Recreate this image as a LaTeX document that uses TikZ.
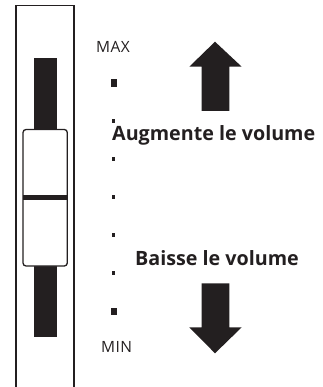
\documentclass[tikz,border=0pt]{standalone}
\usepackage{fontspec}
\setmainfont{Open Sans}
\definecolor{ink}{HTML}{231F20}
\tikzset{
  lbl/.style={inner sep=0pt, anchor=base west, text=ink},
  boldlbl/.style={lbl, font=\fontsize{19.7}{21}\selectfont\bfseries},
  smalllbl/.style={lbl, font=\fontsize{15.5}{17}\selectfont\addfontfeature{LetterSpace=3}},
  bigdot/.style={fill=ink, draw=none},
  fatarrow/.style={fill=ink, draw=none}
}
\begin{document}
\begin{tikzpicture}[x=1pt, y=-1pt]
\useasboundingbox (0,0) rectangle (322,387);
% frame (open at bottom)
\draw[ink, line width=1.5pt] (15.8,400) -- (15.8,5.7) -- (74.2,5.7) -- (74.2,400);
% dark slot
\fill[ink] (34,58.3) rectangle (56.7,336.7);
% knob
\draw[ink, fill=white, line width=1.3pt, rounded corners=3pt] (23,129.5) rectangle (67.3,266);
\draw[ink, line width=5.5pt] (23,197.3) -- (67.3,197.3);
% scale marks
\fill[bigdot] (111.3,79.5) rectangle (116.7,86.7);
\foreach \yy in {121,159,197,235,273} {
  \fill[bigdot] (111.7,\yy-2.3) rectangle (115,\yy+2.3);
}
\fill[bigdot] (111.3,307.5) rectangle (116.7,314.7);
% labels
\node[smalllbl] (max) at (96,52.7) {MAX};
\node[smalllbl] (min) at (101,352.5) {MIN};
\node[boldlbl] (up) at (112,140.7) {Augmente le volume};
\node[boldlbl] (down) at (135,265.7) {Baisse le volume};
% arrows
\fill[fatarrow] (215,41.7) -- (241.7,66.7) -- (229.3,66.7) -- (229.3,111) -- (201.7,111) -- (201.7,66.7) -- (189.3,66.7) -- cycle;
\fill[fatarrow] (215,353.3) -- (241.7,327.3) -- (229.3,327.3) -- (229.3,283.3) -- (201.7,283.3) -- (201.7,327.3) -- (189.3,327.3) -- cycle;
\end{tikzpicture}
\end{document}
